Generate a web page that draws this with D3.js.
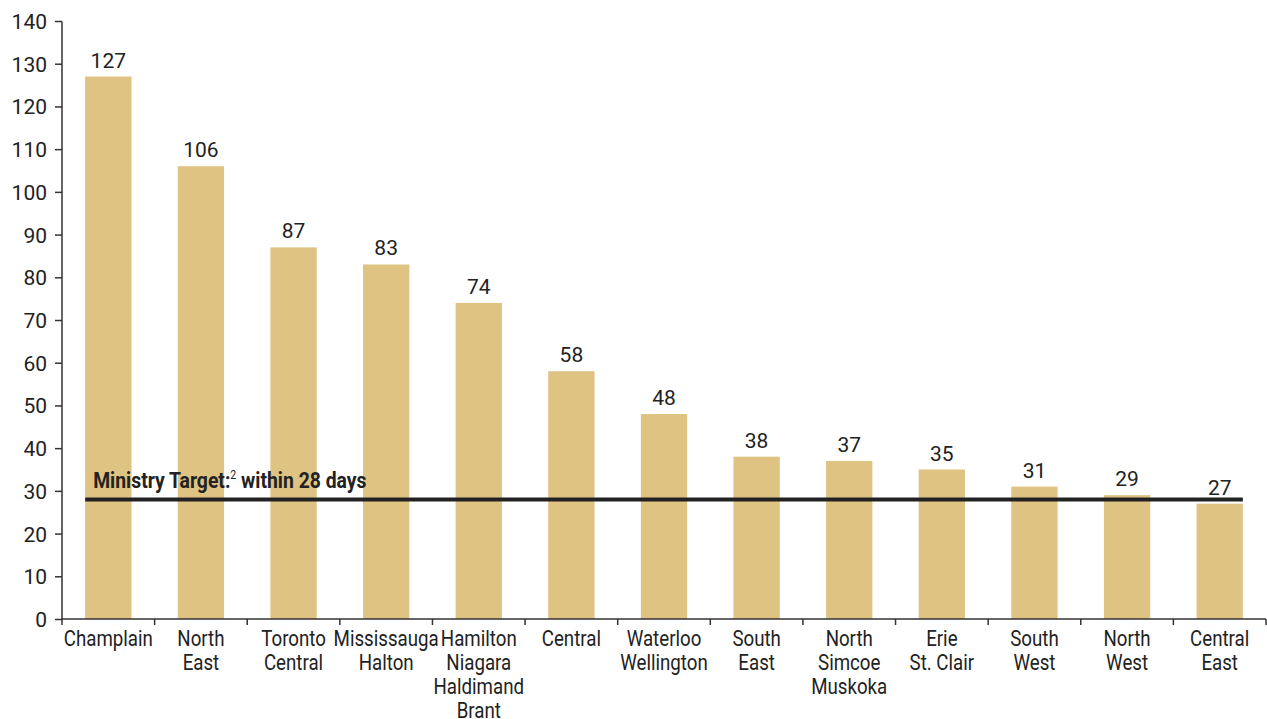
<!DOCTYPE html>
<html>
<head>
<meta charset="utf-8">
<script src="https://cdn.jsdelivr.net/npm/d3@7"></script>
<style>
    body { margin: 0; background: #fff; }
    svg text { fill: #222; }
    .num { font-family: Roboto, "Liberation Sans", sans-serif; font-size: 21px; }
    .cat { font-family: Roboto, "Liberation Sans", sans-serif; font-size: 22px; }
    .target { font-family: Roboto, "Liberation Sans", sans-serif; font-size: 22px; font-weight: bold; }
</style>
</head>
<body>
<svg id="chart" width="1267" height="719"></svg>
<script>
const regions = [
    ["Champlain"], ["North", "East"], ["Toronto", "Central"], ["Mississauga", "Halton"],
    ["Hamilton", "Niagara", "Haldimand", "Brant"], ["Central"], ["Waterloo", "Wellington"],
    ["South", "East"], ["North", "Simcoe", "Muskoka"], ["Erie", "St. Clair"],
    ["South", "West"], ["North", "West"], ["Central", "East"]
];
const days = [127, 106, 87, 83, 74, 58, 48, 38, 37, 35, 31, 29, 27];
const yTicks = [0, 10, 20, 30, 40, 50, 60, 70, 80, 90, 100, 110, 120, 130, 140];
const target = 28;
const targetLabel = "Ministry Target:";
const targetNote = "2";
const targetRest = " within 28 days";

const margin = {top: 21, right: 1, bottom: 100, left: 62};
const width = 1267, height = 719;
const innerW = width - margin.left - margin.right;
const innerH = height - margin.top - margin.bottom;
const catSqueeze = 0.85;   // condensed look for the category font
const targetSqueeze = 0.88;

const data = regions.map((r, i) => ({key: r.join(" "), lines: r, value: days[i]}));

const x = d3.scaleBand().domain(data.map(d => d.key)).range([0, innerW]).paddingInner(0.5).paddingOuter(0.25);
const y = d3.scaleLinear().domain([0, 140]).range([innerH, 0]);

const svg = d3.select("#chart");
const g = svg.append("g").attr("transform", `translate(${margin.left},${margin.top})`);

// bars
g.selectAll(".bar")
    .data(data)
    .enter()
    .append("rect")
    .attr("class", "bar")
    .attr("x", d => x(d.key))
    .attr("y", d => y(d.value))
    .attr("width", x.bandwidth())
    .attr("height", d => innerH - y(d.value))
    .attr("fill", "#dfc382");

// value labels
g.selectAll(".val")
    .data(data)
    .enter()
    .append("text")
    .attr("class", "num")
    .attr("x", d => x(d.key) + x.bandwidth() / 2)
    .attr("y", d => y(d.value) - 9)
    .attr("text-anchor", "middle")
    .text(d => d.value);

// y axis
const yAxis = g.append("g")
    .call(d3.axisLeft(y).tickValues(yTicks).tickSize(7).tickPadding(8));
yAxis.selectAll("text").attr("class", "num").attr("font-family", null).attr("font-size", null).attr("dy", "0.36em");
yAxis.selectAll("line, path").attr("stroke", "#333").attr("stroke-width", 1.5);
yAxis.select(".domain").attr("d", `M0,${innerH}V0.5`);

// x axis: baseline, ticks at band boundaries, labels under bars
const xAxis = g.append("g").attr("transform", `translate(0,${innerH})`);
xAxis.append("line")
    .attr("x1", 0).attr("x2", innerW)
    .attr("stroke", "#333").attr("stroke-width", 1.5);
const edges = d3.range(data.length + 1).map(i => i * x.step());
xAxis.selectAll(".edge")
    .data(edges)
    .enter()
    .append("line")
    .attr("x1", d => d).attr("x2", d => d)
    .attr("y1", 0).attr("y2", 6)
    .attr("stroke", "#333").attr("stroke-width", 1.5);

xAxis.selectAll(".cat")
    .data(data)
    .enter()
    .append("text")
    .attr("class", "cat")
    .attr("text-anchor", "middle")
    .attr("transform", d => `translate(${x(d.key) + x.bandwidth() / 2},27) scale(${catSqueeze},1)`)
    .each(function (d) {
        d3.select(this).selectAll("tspan")
            .data(d.lines)
            .enter()
            .append("tspan")
            .attr("x", 0)
            .attr("y", (l, i) => i * 24)
            .text(l => l);
    });

// ministry target line
const first = data[0].key, last = data[data.length - 1].key;
g.append("line")
    .attr("x1", x(first))
    .attr("x2", x(last) + x.bandwidth())
    .attr("y1", y(target)).attr("y2", y(target))
    .attr("stroke", "#222").attr("stroke-width", 4);

const tl = g.append("text")
    .attr("class", "target")
    .attr("transform", `translate(${x(first) + 8},${y(target) - 11}) scale(${targetSqueeze},1)`);
tl.append("tspan").text(targetLabel);
tl.append("tspan").attr("font-size", "12px").attr("dy", "-9").attr("font-weight", "normal").text(targetNote);
tl.append("tspan").attr("dy", "9").text(targetRest);
</script>
</body>
</html>
